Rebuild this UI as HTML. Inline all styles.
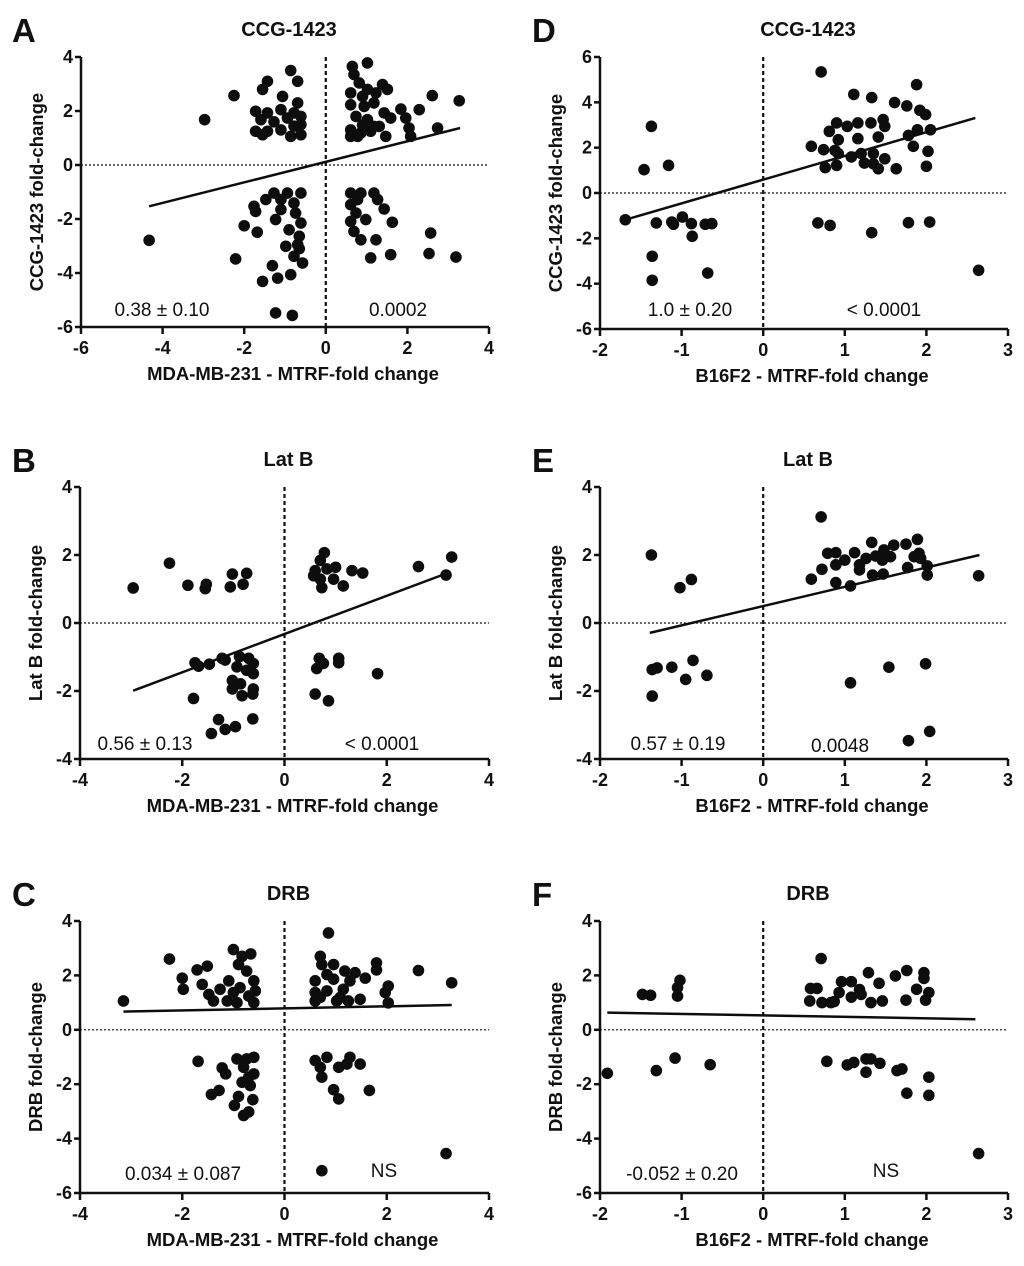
<!DOCTYPE html>
<html><head><meta charset="utf-8"><style>
html,body{margin:0;padding:0;background:#fff;}
svg{display:block;font-family:"Liberation Sans",Arial,sans-serif;}
</style></head><body>
<svg id="fig" width="1024" height="1266" viewBox="0 0 1024 1266" xmlns="http://www.w3.org/2000/svg"></svg>
<script>
// ---- Panel A data (MDA-MB-231 vs CCG-1423) ----
const aX = [-2.97,-2.25,-0.86,-0.69,-1.43,-1.55,-1.06,-0.69,-1.72,-1.43,-1.1,-0.78,-0.61,-1.59,-1.27,-0.94,-0.61,-1.72,-1.43,-1.1,-0.86,-0.61,-1.55,-0.78,
 0.65,1.02,0.69,0.82,1.39,1.23,1.51,0.61,0.9,0.61,0.94,1.18,1.43,0.74,1.02,0.61,0.86,1.1,1.47,0.61,1.18,1.59,1.84,2.29,1.96,2.04,2.08,2.61,3.27,2.74,0.9,0.78,1.31,1.02,
 -4.33,-2.21,-2.0,-1.72,-1.68,-1.76,-1.47,-1.27,-0.94,-0.61,-0.78,-1.1,-1.23,-0.74,-0.61,-0.9,-0.65,-0.98,-0.69,-0.78,-0.57,-1.31,-1.18,-1.55,-0.86,-1.23,-0.82,-1.1,-0.65,
 0.61,0.86,1.18,0.78,0.61,1.27,1.43,0.74,0.98,0.61,1.63,0.69,0.86,1.23,1.10,1.59,2.57,2.53,3.19];
const aY = [1.68,2.57,3.5,3.1,3.1,2.8,2.54,2.3,1.99,1.93,2.05,1.93,1.8,1.68,1.6,1.74,1.5,1.25,1.25,1.3,1.06,1.12,1.12,1.44,
 3.65,3.78,3.35,3.04,2.98,2.67,2.8,2.67,2.54,2.23,2.17,2.3,1.93,1.8,1.68,1.3,1.19,1.25,1.06,1.06,1.43,1.74,2.07,2.05,1.74,1.37,1.06,2.57,2.38,1.37,1.48,1.06,1.43,2.8,
 -2.79,-3.48,-2.25,-1.72,-2.49,-1.53,-1.28,-1.04,-1.04,-1.04,-1.41,-1.65,-2.02,-1.78,-2.15,-2.4,-2.64,-3.01,-2.95,-3.38,-3.63,-3.73,-4.19,-4.31,-4.06,-5.48,-5.57,-1.28,-3.1,
 -1.04,-1.04,-1.04,-1.28,-1.47,-1.28,-1.63,-1.78,-2.02,-2.09,-2.12,-2.46,-2.77,-2.77,-3.44,-3.32,-2.52,-3.28,-3.41];
const aLine = [-4.33,-1.53,3.29,1.37];

// ---- Panel B data (MDA-MB-231 vs Lat B) ----
const bX = [-2.96,-2.25,-1.89,-1.53,-1.55,-1.02,-0.74,-1.06,-0.81,
 0.78,0.7,0.6,0.7,0.83,1.0,0.96,1.15,1.32,1.53,2.62,3.27,3.16,0.73,0.57,
 -1.75,-1.68,-1.47,-1.22,-1.16,-0.88,-0.7,-0.61,-0.93,-0.74,-0.61,-1.02,-0.86,-1.02,-0.83,-0.61,-0.62,-1.78,-1.29,-1.16,-1.43,-0.96,-0.62,
 0.68,0.63,0.76,1.06,1.06,1.82,0.6,0.86];
const bY = [1.03,1.76,1.11,1.14,1.01,1.44,1.46,1.06,1.14,
 2.07,1.84,1.54,1.29,1.59,1.64,1.29,1.09,1.54,1.47,1.66,1.94,1.41,1.04,1.39,
 -1.17,-1.27,-1.21,-1.04,-1.09,-0.99,-1.04,-1.19,-1.29,-1.39,-1.49,-1.69,-1.79,-1.94,-2.14,-1.94,-2.09,-2.22,-2.84,-3.13,-3.25,-3.05,-2.82,
 -1.04,-1.34,-1.19,-1.04,-1.17,-1.49,-2.09,-2.29];
const bLine = [-2.96,-1.99,3.17,1.46];

// ---- Panel C data (MDA-MB-231 vs DRB) ----
const cX = [-3.15,-2.25,-2.0,-1.98,-1.71,-1.51,-1.61,-1.48,-1.39,-1.26,-1.09,-1.12,-1.0,-0.83,-0.66,-0.9,-0.74,-0.6,-0.87,-0.7,-0.6,-0.93,-1.0,-0.57,
 0.86,0.7,0.73,0.96,0.6,0.6,0.6,0.83,1.02,1.15,1.18,1.38,1.58,1.28,0.96,1.25,1.48,1.8,1.8,2.03,1.97,2.03,2.62,3.27,0.83,1.09,0.7,
 -1.69,-1.22,-1.15,-0.93,-0.74,-0.6,-0.8,-0.6,-0.83,-0.67,-1.28,-1.43,-0.9,-0.62,-0.98,-0.7,-0.8,-0.7,
 0.6,0.83,0.7,0.73,1.06,1.28,1.48,1.22,0.96,1.06,1.66,3.16,0.73];
const cY = [1.06,2.6,1.9,1.49,2.2,2.34,1.67,1.3,1.06,1.49,1.8,1.06,2.95,2.7,2.79,2.4,2.16,1.8,1.55,1.24,1.0,1.0,1.37,1.43,
 3.56,2.7,2.4,2.4,1.8,1.37,1.06,1.43,1.06,1.49,2.16,2.1,1.9,1.8,1.86,1.06,1.12,2.46,2.2,1.61,1.37,0.99,2.18,1.73,2.03,1.19,1.19,
 -1.16,-1.4,-1.62,-1.07,-1.07,-1.01,-1.38,-1.62,-1.93,-2.05,-2.23,-2.38,-2.45,-2.57,-2.78,-3.02,-3.15,-1.74,
 -1.13,-1.01,-1.38,-1.74,-1.38,-1.01,-1.26,-1.26,-2.2,-2.54,-2.23,-4.55,-5.18];
const cLine = [-3.15,0.67,3.27,0.91];

// ---- Panel D data (B16F2 vs CCG-1423) ----
const dX = [-1.69,-1.31,-1.12,-1.1,-0.99,-0.88,-0.87,-0.71,-0.63,-1.37,-1.46,-1.16,-1.36,-1.36,-0.68,
 0.71,1.88,1.11,1.33,1.61,1.76,1.92,1.99,0.9,1.16,1.32,1.47,1.49,1.03,0.81,0.92,1.16,1.41,1.78,1.89,2.05,0.59,0.74,0.88,0.92,1.08,1.2,1.35,1.49,1.24,1.41,1.63,1.84,2.02,2.0,0.76,0.9,1.35,
 0.67,0.82,1.33,1.78,2.04,2.64];
const dY = [-1.18,-1.32,-1.28,-1.38,-1.06,-1.35,-1.91,-1.38,-1.35,2.94,1.03,1.22,-2.79,-3.85,-3.53,
 5.34,4.78,4.35,4.21,3.99,3.84,3.65,3.46,3.09,3.09,3.09,3.24,2.94,2.94,2.72,2.35,2.4,2.47,2.54,2.79,2.79,2.06,1.91,1.88,1.74,1.59,1.74,1.74,1.51,1.32,1.07,1.07,2.06,1.84,1.18,1.12,1.22,1.29,
 -1.32,-1.43,-1.75,-1.31,-1.28,-3.41];
const dLine = [-1.69,-1.18,2.6,3.31];

// ---- Panel E data (B16F2 vs Lat B) ----
const eX = [-1.37,-1.02,-0.88,-1.36,-1.3,-1.12,-0.95,-0.86,-0.69,-1.36,
 0.71,0.59,0.72,0.79,0.89,0.89,0.89,1.0,1.07,1.12,1.18,1.18,1.26,1.33,1.38,1.34,1.48,1.46,1.47,1.6,1.75,1.77,1.89,1.91,1.93,2.01,2.01,2.64,1.85,1.56,
 1.07,1.54,1.99,1.78,2.04];
const eY = [2.0,1.04,1.28,-1.37,-1.32,-1.3,-1.66,-1.1,-1.54,-2.15,
 3.12,1.29,1.58,2.05,2.07,1.71,1.19,1.85,1.09,2.07,1.71,1.56,1.9,2.37,1.97,1.41,2.15,1.85,1.44,2.29,2.32,1.63,2.46,2.05,1.9,1.68,1.41,1.39,1.95,1.95,
 -1.76,-1.3,-1.2,-3.46,-3.19];
const eLine = [-1.39,-0.29,2.65,2.0];

// ---- Panel F data (B16F2 vs DRB) ----
const fX = [-1.48,-1.38,-1.02,-1.05,-1.05,-1.91,-1.31,-1.08,-0.65,
 0.71,0.58,0.66,0.57,0.72,0.87,0.93,0.96,1.08,1.08,1.18,1.2,1.29,1.32,1.42,1.46,1.62,1.76,1.75,1.88,1.97,1.97,2.03,1.99,0.83,
 0.78,1.03,1.11,1.26,1.32,1.43,1.26,1.64,1.7,2.03,1.76,2.03,2.64];
const fY = [1.3,1.27,1.82,1.55,1.24,-1.6,-1.5,-1.04,-1.28,
 2.62,1.52,1.52,1.06,1.0,1.04,1.37,1.77,1.77,1.2,1.48,1.3,2.1,1.0,1.71,1.06,1.98,2.18,1.09,1.49,2.1,1.89,1.37,1.09,1.0,
 -1.16,-1.29,-1.2,-1.07,-1.07,-1.23,-1.56,-1.5,-1.44,-1.74,-2.33,-2.41,-4.55];
const fLine = [-1.91,0.63,2.6,0.39];

const yTicksA = [4,2,0,-2,-4,-6];
const yTicksB = [4,2,0,-2,-4];
const yTicksD = [6,4,2,0,-2,-4,-6];
const xTicksMDA6 = [-6,-4,-2,0,2,4];
const xTicksMDA4 = [-4,-2,0,2,4];
const xTicksB16 = [-2,-1,0,1,2,3];

const NS = "http://www.w3.org/2000/svg";
const svg = document.getElementById('fig');
function mk(tag, attrs, parent){
  const e = document.createElementNS(NS, tag);
  for (const k in attrs) e.setAttribute(k, attrs[k]);
  (parent||svg).appendChild(e);
  return e;
}
function txt(parent, x, y, s, size, weight, anchor, extra){
  const t = mk('text', {x:x, y:y, 'font-size':size, 'font-weight':weight, 'text-anchor':anchor||'middle', fill:'#111'}, parent);
  if (extra) for (const k in extra) t.setAttribute(k, extra[k]);
  t.textContent = s;
  return t;
}

function panel(p){
  const g = mk('g', {});
  
  
  const sx = v => p.x0 + (v - p.xd[0]) / (p.xd[1] - p.xd[0]) * (p.x1 - p.x0);
  const sy = v => p.y1 - (v - p.yd[0]) / (p.yd[1] - p.yd[0]) * (p.y1 - p.y0);
  const L = txt(g, p.letterX, p.y0 - 15, p.letter, 33, 'bold', 'start');
  
  
  const T = txt(g, (p.x0 + p.x1)/2 + 4, p.y0 - 21, p.title, 20, 'bold');
  
  
  const ya = mk('g', {}, g);
  
  
  mk('line', {x1:p.x0, y1:sy(p.yd[1]), x2:p.x0, y2:p.y1, stroke:'#111', 'stroke-width':2.5}, ya);
  p.yt.forEach(v => {
    mk('line', {x1:p.x0-6, y1:sy(v), x2:p.x0, y2:sy(v), stroke:'#111', 'stroke-width':2.5}, ya);
    const t = txt(ya, p.x0 - 8, sy(v) + 6, String(v), 18, 'bold', 'end');
    
    
  });
  const xa = mk('g', {}, g);
  
  
  mk('line', {x1:p.x0, y1:p.y1, x2:sx(p.xd[1]), y2:p.y1, stroke:'#111', 'stroke-width':2.5}, xa);
  p.xt.forEach(v => {
    mk('line', {x1:sx(v), y1:p.y1, x2:sx(v), y2:p.y1+7, stroke:'#111', 'stroke-width':2.5}, xa);
    const t = txt(xa, sx(v), p.y1 + 27, String(v), 18, 'bold');
    
    
  });
  const xt = txt(g, (p.x0 + p.x1)/2 + 8, p.y1 + 53, p.xlabel, 18.5, 'bold');
  
  
  const ytx = p.x0 - 38, yty = (p.y0 + p.y1)/2;
  const yt = txt(g, ytx, yty, p.ylabel, 18.5, 'bold', 'middle', {transform:'rotate(-90 '+ytx+' '+yty+')'});
  
  
  const hz = mk('line', {x1:p.x0, y1:sy(0), x2:p.x1, y2:sy(0), stroke:'#111', 'stroke-width':1.2, 'stroke-dasharray':'2,2'}, g);
  
  
  const vt = mk('line', {x1:sx(0), y1:sy(p.yd[1]), x2:sx(0), y2:p.y1, stroke:'#111', 'stroke-width':2.2, 'stroke-dasharray':'4,3'}, g);
  
  
  const pts = mk('g', {}, g);
  
  
  p.xs.forEach((v, i) => {
    const c = mk('circle', {cx:sx(v), cy:sy(p.ys[i]), r:5.8, fill:'#0d0d0d'}, pts);
    
    
  });
  const rl = mk('line', {x1:sx(p.line[0]), y1:sy(p.line[1]), x2:sx(p.line[2]), y2:sy(p.line[3]), stroke:'#0d0d0d', 'stroke-width':2.5}, g);
  
  
  const s1 = txt(g, p.a1[0], p.a1[1], p.slope, 19, 'normal');
  
  
  const s2 = txt(g, p.a2[0], p.a2[1], p.pval, 19, 'normal');
  
  
}

panel({name:'panel-a', letter:'A', letterX:12, title:'CCG-1423', x0:81, x1:489, y0:57, y1:327, xd:[-6,4], yd:[-6,4], xt:xTicksMDA6, yt:yTicksA,
  xs:aX, ys:aY, line:aLine, xlabel:'MDA-MB-231 - MTRF-fold change', ylabel:'CCG-1423 fold-change', slope:'0.38 ± 0.10', pval:'0.0002', a1:[162,316], a2:[398,316]});
panel({name:'panel-b', letter:'B', letterX:12, title:'Lat  B', x0:80, x1:489, y0:487, y1:759, xd:[-4,4], yd:[-4,4], xt:xTicksMDA4, yt:yTicksB,
  xs:bX, ys:bY, line:bLine, xlabel:'MDA-MB-231 - MTRF-fold change', ylabel:'Lat B fold-change', slope:'0.56 ± 0.13', pval:'< 0.0001', a1:[145,750], a2:[382,750]});
panel({name:'panel-c', letter:'C', letterX:12, title:'DRB', x0:80, x1:489, y0:921, y1:1193, xd:[-4,4], yd:[-6,4], xt:xTicksMDA4, yt:yTicksA,
  xs:cX, ys:cY, line:cLine, xlabel:'MDA-MB-231 - MTRF-fold change', ylabel:'DRB fold-change', slope:'0.034 ± 0.087', pval:'NS', a1:[183,1180], a2:[384,1177]});
panel({name:'panel-d', letter:'D', letterX:532, title:'CCG-1423', x0:600, x1:1008, y0:57, y1:329, xd:[-2,3], yd:[-6,6], xt:xTicksB16, yt:yTicksD,
  xs:dX, ys:dY, line:dLine, xlabel:'B16F2 - MTRF-fold change', ylabel:'CCG-1423 fold-change', slope:'1.0 ± 0.20', pval:'< 0.0001', a1:[690,316], a2:[884,316]});
panel({name:'panel-e', letter:'E', letterX:532, title:'Lat  B', x0:600, x1:1008, y0:487, y1:759, xd:[-2,3], yd:[-4,4], xt:xTicksB16, yt:yTicksB,
  xs:eX, ys:eY, line:eLine, xlabel:'B16F2 - MTRF-fold change', ylabel:'Lat B fold-change', slope:'0.57 ± 0.19', pval:'0.0048', a1:[678,750], a2:[840,752]});
panel({name:'panel-f', letter:'F', letterX:532, title:'DRB', x0:600, x1:1008, y0:921, y1:1193, xd:[-2,3], yd:[-6,4], xt:xTicksB16, yt:yTicksA,
  xs:fX, ys:fY, line:fLine, xlabel:'B16F2 - MTRF-fold change', ylabel:'DRB fold-change', slope:'-0.052 ± 0.20', pval:'NS', a1:[682,1180], a2:[886,1177]});
</script>
</body></html>
